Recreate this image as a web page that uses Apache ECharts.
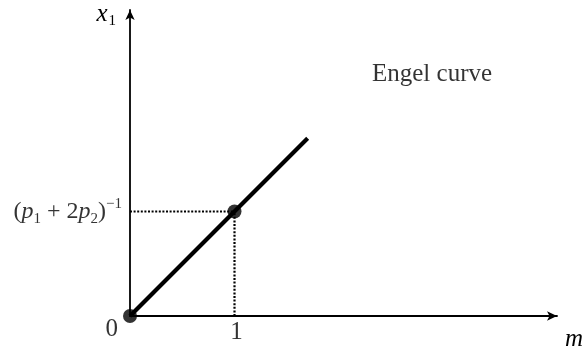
<!DOCTYPE html>
<html>
<head>
<meta charset="utf-8">
<script src="https://cdn.jsdelivr.net/npm/echarts@6/dist/echarts.min.js"></script>
<style>
  html, body { margin: 0; padding: 0; background: #fff; }
  #engelChart { width: 585px; height: 347px; }
</style>
</head>
<body>
<div id="engelChart"></div>
<script>
// Engel curve x1 = m / (p1 + 2p2), drawn with p1 + 2p2 = 1
const curveM = [0, 1.7]
const curveX1 = [0, 1.7]
const pointM = [0, 1]
const pointX1 = [0, 1]
const guideM = 1
const guideX1 = 1
const axisMax = [4.086, 2.928]
const textLabel = 'Engel curve'
const textPos = [2.89, 2.31]

const serif = 'Liberation Serif'
const black = '#000'

const chart = echarts.init(document.getElementById('engelChart'))

const option = {
  animation: false,
  grid: { left: 130, top: 10, right: 28, bottom: 31, outerBoundsMode: 'none', containLabel: false },
  xAxis: {
    type: 'value',
    min: 0,
    max: axisMax[0],
    splitLine: { show: false },
    axisTick: { show: false },
    axisLabel: { show: false },
    axisLine: {
      symbol: ['none', 'arrow'],
      symbolSize: [7, 10],
      lineStyle: { color: black, width: 1.8 }
    },
    name: 'm',
    nameLocation: 'end',
    nameGap: 8,
    nameTextStyle: {
      fontFamily: serif,
      fontStyle: 'italic',
      fontSize: 25,
      color: black,
      verticalAlign: 'top',
      padding: [11, 0, 0, 0]
    }
  },
  yAxis: {
    type: 'value',
    min: 0,
    max: axisMax[1],
    splitLine: { show: false },
    axisTick: { show: false },
    axisLabel: { show: false },
    axisLine: {
      symbol: ['none', 'arrow'],
      symbolSize: [7, 10],
      lineStyle: { color: black, width: 1.8 }
    },
    name: '{i|x}{s|1}',
    nameLocation: 'end',
    nameGap: -17,
    nameTextStyle: {
      fontFamily: serif,
      align: 'right',
      padding: [0, 14, 0, 0],
      rich: {
        i: { fontFamily: serif, fontStyle: 'italic', fontSize: 25, color: black, lineHeight: 26, verticalAlign: 'bottom' },
        s: { fontFamily: serif, fontSize: 15, color: black, lineHeight: 18, verticalAlign: 'bottom', padding: [0, 0, -2, 1] }
      }
    }
  },
  series: [
    {
      type: 'line',
      data: curveM.map((m, i) => [m, curveX1[i]]),
      showSymbol: false,
      lineStyle: { color: black, width: 4.2 },
      z: 3
    },
    {
      type: 'line',
      data: [[0, guideX1], [guideM, guideX1]],
      showSymbol: false,
      lineStyle: { color: black, width: 2.2, type: [2, 1.6] }
    },
    {
      type: 'line',
      data: [[guideM, 0], [guideM, guideX1]],
      showSymbol: false,
      lineStyle: { color: black, width: 2.2, type: [2, 1.6] }
    },
    {
      type: 'scatter',
      data: pointM.map((m, i) => [m, pointX1[i]]),
      symbolSize: 14,
      itemStyle: { color: black },
      z: 5
    },
    {
      type: 'scatter',
      symbolSize: 0,
      silent: true,
      clip: false,
      label: { show: true, fontFamily: serif, fontSize: 25, color: black },
      data: [
        { value: [0, 0], label: { formatter: '0', position: 'left', offset: [-7, 13] } },
        { value: [guideM, 0], label: { formatter: '1', position: 'bottom', distance: 4, offset: [2, 0] } },
        { value: textPos, label: { formatter: textLabel, fontSize: 25, position: 'inside' } },
        {
          value: [0, guideX1],
          label: {
            position: 'left',
            distance: 8,
            formatter: '{n|(}{i|p}{s|1}{n| + 2}{i|p}{s|2}{n|)}{u|−1}',
            rich: {
              n: { fontFamily: serif, fontSize: 24, color: black, lineHeight: 30, verticalAlign: 'middle' },
              i: { fontFamily: serif, fontSize: 24, fontStyle: 'italic', color: black, lineHeight: 30, verticalAlign: 'middle' },
              s: { fontFamily: serif, fontSize: 15, color: black, lineHeight: 18, verticalAlign: 'bottom' },
              u: { fontFamily: serif, fontSize: 15, color: black, lineHeight: 18, verticalAlign: 'top' }
            }
          }
        }
      ]
    }
  ]
}

chart.setOption(option)
</script>
</body>
</html>
